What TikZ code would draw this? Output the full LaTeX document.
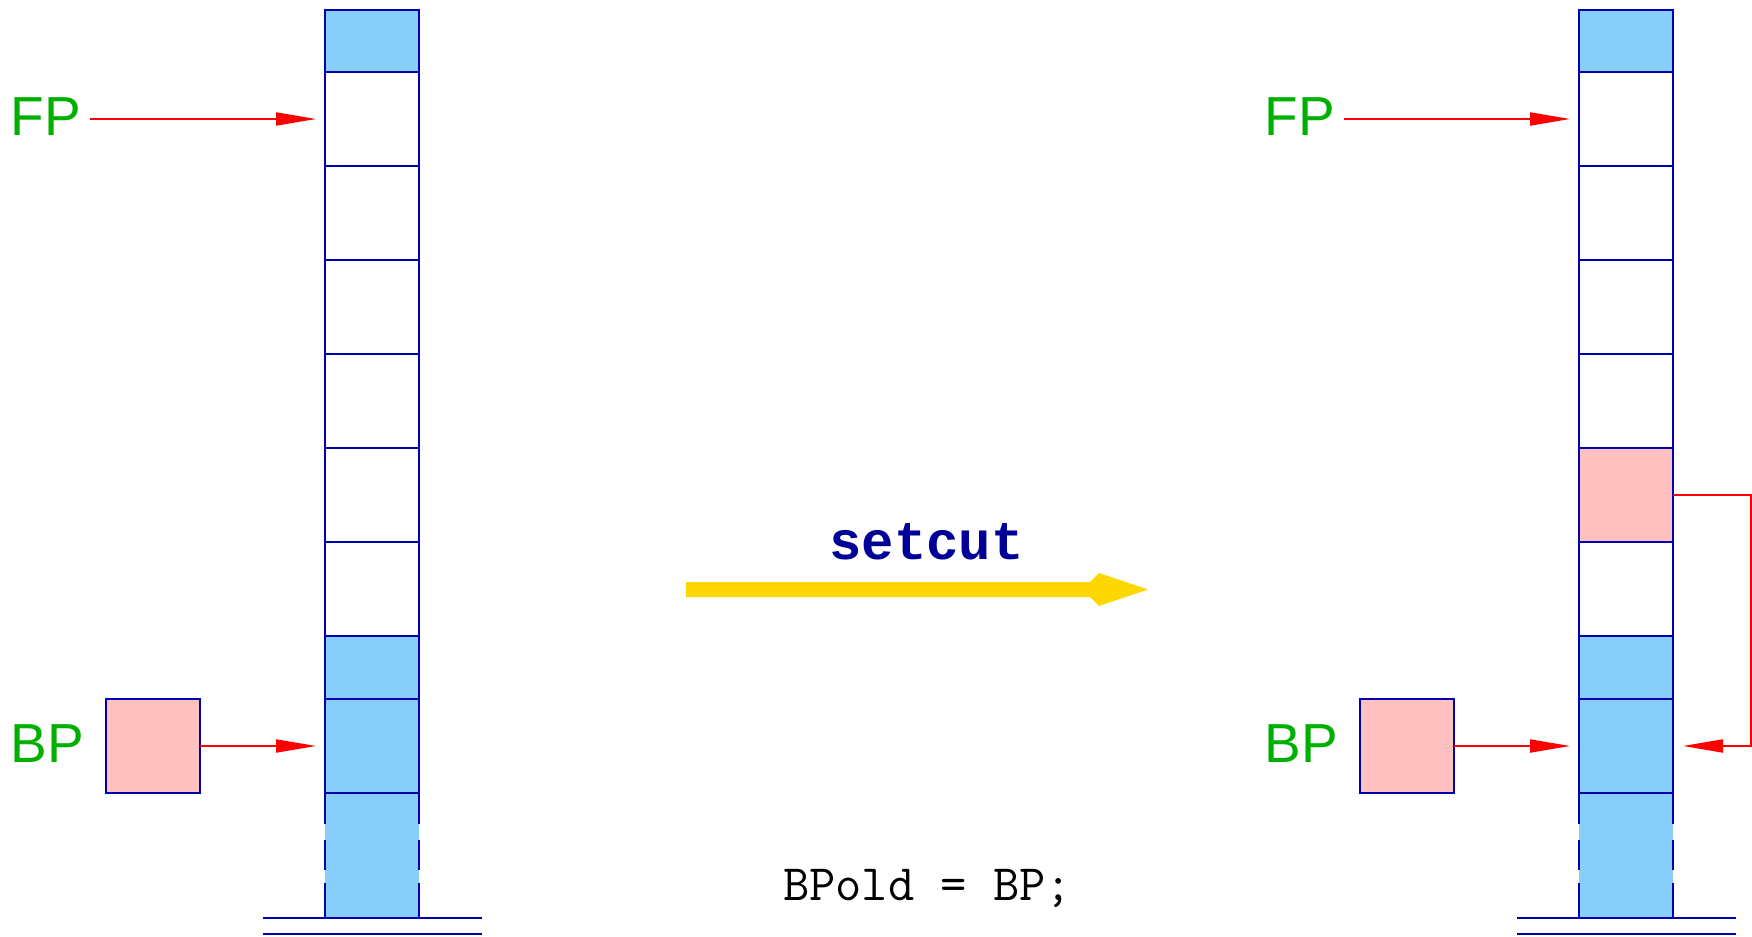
\documentclass[tikz,border=0pt]{standalone}
\usepackage{fontspec}
\setmainfont{Liberation Sans}
\newfontfamily\codebold{Liberation Mono}[BoldFont={Liberation Mono Bold}]
\usetikzlibrary{arrows.meta,calc}
\definecolor{cellblue}{RGB}{135,206,250}
\definecolor{cellpink}{RGB}{255,192,192}
\definecolor{dblue}{RGB}{0,0,176}
\definecolor{lblgreen}{RGB}{0,176,0}
\definecolor{navy}{RGB}{0,0,153}
\definecolor{gold}{RGB}{255,215,0}
\begin{document}
\begin{tikzpicture}[x=0.5pt,y=-0.5pt,
  cell/.style={draw=dblue, line width=1.3pt, minimum width=47pt, minimum height=47pt, inner sep=0pt, outer sep=0pt, rectangle},
  blue/.style={fill=cellblue},
  pink/.style={fill=cellpink},
  short/.style={minimum height=31pt},
  base/.style={fill=cellblue, minimum width=47pt, minimum height=62.5pt, inner sep=0pt, outer sep=0pt, rectangle},
  sideline/.style={draw=dblue, line width=1.3pt, dash pattern=on 15.5pt off 8pt on 15pt off 6.5pt on 20pt},
  ground/.style={draw=dblue, line width=1.3pt},
  ptr/.style={draw=red, line width=1pt, -{Triangle[length=20pt,width=6.5pt]}},
  reg/.style={text=lblgreen, font=\fontsize{27.5pt}{30pt}\selectfont, inner ysep=0pt, inner xsep=4.5pt},
]
\useasboundingbox (0,0) rectangle (1752,937);

% ---------- left stack ----------
\node[base] (L9) at (372,855.5) {};
\node[cell,blue,short] (L0) at (372,41) {};
\node[cell] (L1) at (372,119) {};
\node[cell] (L2) at (372,213) {};
\node[cell] (L3) at (372,307) {};
\node[cell] (L4) at (372,401) {};
\node[cell] (L5) at (372,495) {};
\node[cell] (L6) at (372,589) {};
\node[cell,blue,minimum height=31.5pt] (L7) at (372,667.5) {};
\node[cell,blue] (L8) at (372,746) {};
\draw[sideline] (L9.north west) -- (L9.south west);
\draw[sideline] (L9.north east) -- (L9.south east);
\draw[ground] ($(L9.south)+(-109,0)$) -- ($(L9.south)+(110,0)$);
\draw[ground] ($(L9.south)+(-109,16)$) -- ($(L9.south)+(110,16)$);

\node[reg, anchor=base west] (FPL) at (1,135) {FP};
\node[reg, anchor=base west] (BPLt) at (1,762) {BP};
\node[cell,pink] (BPL) at (153,746) {};
\draw[ptr, shorten >=4.5pt] (FPL.east |- L1.west) -- (L1.west);
\draw[ptr, shorten >=4.5pt] (BPL.east) -- (L8.west);

% ---------- right stack ----------
\node[base] (R9) at (1626,855.5) {};
\node[cell,blue,short] (R0) at (1626,41) {};
\node[cell] (R1) at (1626,119) {};
\node[cell] (R2) at (1626,213) {};
\node[cell] (R3) at (1626,307) {};
\node[cell] (R4) at (1626,401) {};
\node[cell,pink] (R5) at (1626,495) {};
\node[cell] (R6) at (1626,589) {};
\node[cell,blue,minimum height=31.5pt] (R7) at (1626,667.5) {};
\node[cell,blue] (R8) at (1626,746) {};
\draw[sideline] (R9.north west) -- (R9.south west);
\draw[sideline] (R9.north east) -- (R9.south east);
\draw[ground] ($(R9.south)+(-109,0)$) -- ($(R9.south)+(110,0)$);
\draw[ground] ($(R9.south)+(-109,16)$) -- ($(R9.south)+(110,16)$);

\node[reg, anchor=base west] (FPR) at (1255,135) {FP};
\node[reg, anchor=base west] (BPRt) at (1255,762) {BP};
\node[cell,pink] (BPR) at (1407,746) {};
\draw[ptr, shorten >=4.5pt] (FPR.east |- R1.west) -- (R1.west);
\draw[ptr, shorten >=4.5pt] (BPR.east) -- (R8.west);
\coordinate (RX) at (1750.5,0);
\draw[ptr, shorten >=5pt] (R5.east) -- (R5.east -| RX) |- (R8.east);

% ---------- transition arrow ----------
\fill[gold] (686,582) -- (1090,582) -- (1099,573) -- (1148,589.5) -- (1099,606) -- (1090,597) -- (686,597) -- cycle;
\node[anchor=base, inner sep=0pt, text=navy, font=\codebold\bfseries\fontsize{27pt}{30pt}\selectfont] (setcut) at (926.5,559) {setcut};
\node[anchor=base, inner sep=0pt, font=\ttfamily\fontsize{25.5pt}{30pt}\selectfont] (code) at (927.5,900) {BPold = BP;};
\end{tikzpicture}
\end{document}
